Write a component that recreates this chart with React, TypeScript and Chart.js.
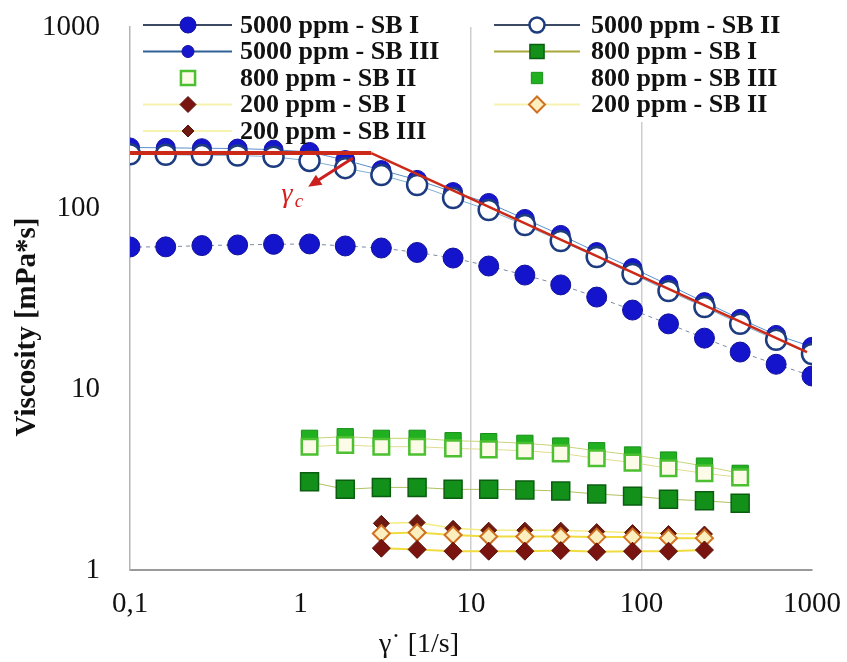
import React, { useEffect, useRef } from 'react';
import { Chart, registerables } from 'chart.js';

Chart.register(...registerables);

// Shear rates of the logarithmic sweep [1/s]
const shearRates5000 = [0.1, 0.162, 0.264, 0.428, 0.695, 1.13, 1.83, 2.98, 4.83, 7.85, 12.7, 20.7, 33.6, 54.6, 88.6, 144, 234, 379, 616, 1000];
const shearRates800 = [1.13, 1.83, 2.98, 4.83, 7.85, 12.7, 20.7, 33.6, 54.6, 88.6, 144, 234, 379];
const shearRates200 = [2.98, 4.83, 7.85, 12.7, 20.7, 33.6, 54.6, 88.6, 144, 234];

// Viscosity [mPa*s]
const visc5000SB1 = [60.9, 61.0, 62.0, 62.5, 63.0, 63.3, 61.7, 60.1, 56.8, 52.9, 47.8, 42.6, 37.6, 32.2, 27.3, 22.9, 19.1, 16.0, 13.7, 11.8];
const visc5000SB2 = [198, 197, 196, 195, 192, 182, 166, 152, 134, 113.6, 97.5, 80.5, 65.7, 53.6, 43.2, 34.8, 28.4, 22.9, 18.7, 15.6];
const visc5000SB3 = [216, 215, 214, 213, 210, 204, 184, 162, 143, 122.5, 106.6, 87, 71, 57.1, 46.6, 37.6, 30.2, 24.4, 19.9, 17.1];

const visc800SB1 = [3.07, 2.79, 2.86, 2.86, 2.79, 2.79, 2.77, 2.73, 2.63, 2.56, 2.46, 2.41, 2.34];
const visc800SB2 = [4.8, 4.91, 4.8, 4.8, 4.7, 4.64, 4.56, 4.41, 4.14, 3.92, 3.65, 3.42, 3.25];
const visc800SB3 = [5.34, 5.45, 5.34, 5.34, 5.18, 5.12, 5.01, 4.84, 4.56, 4.32, 4.05, 3.75, 3.42];

const visc200SB1 = [1.32, 1.3, 1.27, 1.27, 1.27, 1.28, 1.26, 1.27, 1.27, 1.29];
const visc200SB2 = [1.59, 1.61, 1.56, 1.53, 1.53, 1.53, 1.52, 1.52, 1.5, 1.5];
const visc200SB3 = [1.81, 1.83, 1.7, 1.66, 1.66, 1.66, 1.63, 1.61, 1.59, 1.58];

// Power-law model: Newtonian plateau, then shear thinning
const modelShear = [0.1, 2.6, 935];
const modelVisc = [201, 201, 16];

// Critical shear rate marker (arrow tail, arrow tip, label anchor)
const arrowTail = [2.03, 189];
const arrowTip = [1.11, 131];
const gammaCLabelAt = [0.834, 116];

const xTicks = [0.1, 1, 10, 100, 1000];
const xTickLabels = ['0,1', '1', '10', '100', '1000'];
const yTicks = [1, 10, 100, 1000];
const yTickLabels = ['1', '10', '100', '1000'];

const seriesLabels = [
  '5000 ppm - SB I', '5000 ppm - SB II', '5000 ppm - SB III',
  '800 ppm - SB I', '800 ppm - SB II', '800 ppm - SB III',
  '200 ppm - SB I', '200 ppm - SB II', '200 ppm - SB III',
];

const SERIF = "'Liberation Serif', 'Times New Roman', serif";

const pts = (xs: number[], ys: number[]) => xs.map((x, i) => ({ x, y: ys[i] }));

// keep the plot area fixed: tick-label overhang must not shrink it
const clearScalePadding = (s: any) => {
  s.paddingTop = 0;
  s.paddingBottom = 0;
  s.paddingLeft = 0;
  s.paddingRight = 0;
};

function drawMarker(ctx: CanvasRenderingContext2D, style: string, x: number, y: number, r: number, fill: string, stroke: string, lw: number) {
  ctx.beginPath();
  if (style === 'circle') {
    ctx.arc(x, y, r, 0, Math.PI * 2);
  } else if (style === 'rect') {
    const s = r * Math.SQRT1_2;
    ctx.rect(x - s, y - s, 2 * s, 2 * s);
  } else {
    ctx.moveTo(x - r, y);
    ctx.lineTo(x, y - r);
    ctx.lineTo(x + r, y);
    ctx.lineTo(x, y + r);
    ctx.closePath();
  }
  ctx.fillStyle = fill;
  ctx.fill();
  if (lw > 0) {
    ctx.lineWidth = lw;
    ctx.strokeStyle = stroke;
    ctx.stroke();
  }
}

const overlayPlugin = {
  id: 'viscosityOverlay',
  afterDraw(chart: any) {
    const { ctx } = chart;
    const xs = chart.scales.x;
    const ys = chart.scales.y;
    ctx.save();

    // legend panel (two columns, row-major order)
    ctx.fillStyle = '#ffffff';
    ctx.fillRect(486, 10, 314, 112);
    const cols = [
      { l0: 143, l1: 232, mx: 188, tx: 240 },
      { l0: 494, l1: 580, mx: 537, tx: 591 },
    ];
    const series = chart.data.datasets.filter((d: any) => d.legendStyle);
    series.forEach((d: any, i: number) => {
      const c = cols[i % 2];
      const cy = 25 + Math.floor(i / 2) * 26.5;
      const st = d.legendStyle;
      if (st.line) {
        ctx.beginPath();
        ctx.moveTo(c.l0, cy);
        ctx.lineTo(c.l1, cy);
        ctx.lineWidth = 2;
        ctx.strokeStyle = st.line;
        ctx.stroke();
      }
      drawMarker(ctx, d.pointStyle, c.mx, cy, st.r, d.pointBackgroundColor, d.pointBorderColor, d.pointBorderWidth);
      ctx.fillStyle = '#111111';
      ctx.font = `bold 26px ${SERIF}`;
      ctx.textAlign = 'left';
      ctx.textBaseline = 'middle';
      ctx.fillText(d.label, c.tx, cy + 1);
    });

    // critical shear rate arrow
    const tx = xs.getPixelForValue(arrowTail[0]);
    const ty = ys.getPixelForValue(arrowTail[1]);
    const hx = xs.getPixelForValue(arrowTip[0]);
    const hy = ys.getPixelForValue(arrowTip[1]);
    const ang = Math.atan2(hy - ty, hx - tx);
    const headLen = 13;
    ctx.strokeStyle = '#cc2020';
    ctx.fillStyle = '#cc2020';
    ctx.lineWidth = 3;
    ctx.beginPath();
    ctx.moveTo(tx, ty);
    ctx.lineTo(hx - Math.cos(ang) * headLen * 0.7, hy - Math.sin(ang) * headLen * 0.7);
    ctx.stroke();
    ctx.beginPath();
    ctx.moveTo(hx, hy);
    ctx.lineTo(hx - Math.cos(ang) * headLen + Math.sin(ang) * 6, hy - Math.sin(ang) * headLen - Math.cos(ang) * 6);
    ctx.lineTo(hx - Math.cos(ang) * headLen - Math.sin(ang) * 6, hy - Math.sin(ang) * headLen + Math.cos(ang) * 6);
    ctx.closePath();
    ctx.fill();

    // γc label
    const lx = xs.getPixelForValue(gammaCLabelAt[0]);
    const ly = ys.getPixelForValue(gammaCLabelAt[1]);
    ctx.fillStyle = '#d42020';
    ctx.textAlign = 'center';
    ctx.textBaseline = 'middle';
    ctx.font = `italic 28px ${SERIF}`;
    ctx.fillText('γ', lx, ly - 2);
    ctx.font = `italic 19px ${SERIF}`;
    ctx.fillText('c', lx + 12, ly + 6);

    // axis titles
    ctx.fillStyle = '#111111';
    ctx.font = `bold 29px ${SERIF}`;
    ctx.save();
    ctx.translate(28, 327);
    ctx.rotate(-Math.PI / 2);
    ctx.fillText('Viscosity [mPa*s]', 0, 0);
    ctx.restore();
    ctx.font = `28px ${SERIF}`;
    ctx.fillText('γ˙ [1/s]', 419, 645);

    ctx.restore();
  },
};

export default function App() {
  const canvasRef = useRef<HTMLCanvasElement | null>(null);

  useEffect(() => {
    if (!canvasRef.current) return;

    const datasets: any[] = [
      {
        label: seriesLabels[0], data: pts(shearRates5000, visc5000SB1),
        pointStyle: 'circle', pointRadius: 10, pointBackgroundColor: '#1414cc', pointBorderColor: '#10109a', pointBorderWidth: 1,
        borderColor: '#7a8aa0', borderWidth: 1, borderDash: [4, 4],
        legendStyle: { line: '#3c4a64', r: 8 },
      },
      {
        label: seriesLabels[1], data: pts(shearRates5000, visc5000SB2),
        pointStyle: 'circle', pointRadius: 10, pointBackgroundColor: '#ffffff', pointBorderColor: '#1d3c80', pointBorderWidth: 2.5,
        borderColor: '#7fb0d0', borderWidth: 1,
        legendStyle: { line: '#3c4a64', r: 7.5 },
      },
      {
        label: seriesLabels[2], data: pts(shearRates5000, visc5000SB3),
        pointStyle: 'circle', pointRadius: 9.5, pointBackgroundColor: '#1616cc', pointBorderColor: '#1212a8', pointBorderWidth: 1,
        borderColor: '#5a90c8', borderWidth: 1,
        legendStyle: { line: '#2f6096', r: 6 },
      },
      {
        label: seriesLabels[3], data: pts(shearRates800, visc800SB1),
        pointStyle: 'rect', pointRadius: 12.7, pointBackgroundColor: '#12901a', pointBorderColor: '#0b5e10', pointBorderWidth: 1.5,
        borderColor: '#b0c060', borderWidth: 1,
        legendStyle: { line: '#a8a838', r: 10 },
      },
      {
        label: seriesLabels[4], data: pts(shearRates800, visc800SB2),
        pointStyle: 'rect', pointRadius: 11, pointBackgroundColor: '#fbfbe8', pointBorderColor: '#4cc030', pointBorderWidth: 2.5,
        borderColor: '#e0dc90', borderWidth: 1,
        legendStyle: { line: '', r: 10 },
      },
      {
        label: seriesLabels[5], data: pts(shearRates800, visc800SB3),
        pointStyle: 'rect', pointRadius: 11.5, pointBackgroundColor: '#20b020', pointBorderColor: '#189018', pointBorderWidth: 1,
        borderColor: '#c8d478', borderWidth: 1,
        legendStyle: { line: '', r: 8 },
      },
      {
        label: seriesLabels[6], data: pts(shearRates200, visc200SB1),
        pointStyle: 'rectRot', pointRadius: 9, pointBackgroundColor: '#7a1410', pointBorderColor: '#5a0e0a', pointBorderWidth: 1,
        borderColor: '#f0dc40', borderWidth: 2,
        legendStyle: { line: '#f6f2b0', r: 8 },
      },
      {
        label: seriesLabels[7], data: pts(shearRates200, visc200SB2),
        pointStyle: 'rectRot', pointRadius: 8.5, pointBackgroundColor: '#fbefc0', pointBorderColor: '#d07020', pointBorderWidth: 2,
        borderColor: '#f0dc40', borderWidth: 2,
        legendStyle: { line: '#f6f2b0', r: 8 },
      },
      {
        label: seriesLabels[8], data: pts(shearRates200, visc200SB3),
        pointStyle: 'rectRot', pointRadius: 8, pointBackgroundColor: '#6e1a10', pointBorderColor: '#5a120a', pointBorderWidth: 1,
        borderColor: '#f4ec80', borderWidth: 1.5,
        legendStyle: { line: '#f6f2b0', r: 6 },
      },
      {
        label: 'model', data: pts(modelShear, modelVisc),
        pointRadius: 0, borderColor: '#cc2a18', borderWidth: 2.5,
        segment: { borderWidth: (c: any) => (c.p0DataIndex === 0 ? 4 : 2.5) },
        order: -1,
      },
    ];

    const chart = new Chart(canvasRef.current, {
      type: 'line',
      data: { datasets },
      options: {
        animation: false,
        responsive: false,
        maintainAspectRatio: false,
        layout: { padding: { top: 27, right: 35, left: 0, bottom: 0 } },
        plugins: { legend: { display: false }, tooltip: { enabled: false } },
        elements: { line: { tension: 0 } },
        scales: {
          x: {
            type: 'logarithmic',
            min: 0.1,
            max: 1000,
            afterBuildTicks: (s: any) => { s.ticks = xTicks.map((v) => ({ value: v, major: true })); },
            afterFit: (s: any) => { s.height = 92; clearScalePadding(s); },
            ticks: {
              autoSkip: false,
              maxRotation: 0,
              padding: 17,
              color: '#111111',
              font: { family: SERIF, size: 29 },
              callback: (_v: any, i: number) => xTickLabels[i],
            },
            grid: {
              drawTicks: false,
              lineWidth: 1.5,
              color: (c: any) => (c.tick && (c.tick.value === 10 || c.tick.value === 100) ? '#cdcdcd' : 'rgba(0,0,0,0)'),
            },
            border: { color: '#9a9a9a', width: 2 },
          },
          y: {
            type: 'logarithmic',
            min: 1,
            max: 1000,
            afterBuildTicks: (s: any) => { s.ticks = yTicks.map((v) => ({ value: v, major: true })); },
            afterFit: (s: any) => { s.width = 130; clearScalePadding(s); },
            ticks: {
              autoSkip: false,
              padding: 30,
              color: '#111111',
              font: { family: SERIF, size: 29 },
              callback: (_v: any, i: number) => yTickLabels[i],
            },
            grid: { drawTicks: false, color: 'rgba(0,0,0,0)' },
            border: { color: '#b4b4b4', width: 1.5 },
          },
        },
      },
      plugins: [overlayPlugin],
    } as any);

    return () => chart.destroy();
  }, []);

  return (
    <div style={{ position: 'absolute', left: 0, top: 0, width: 847, height: 662, background: '#ffffff' }}>
      <canvas ref={canvasRef} width={847} height={662} />
    </div>
  );
}
